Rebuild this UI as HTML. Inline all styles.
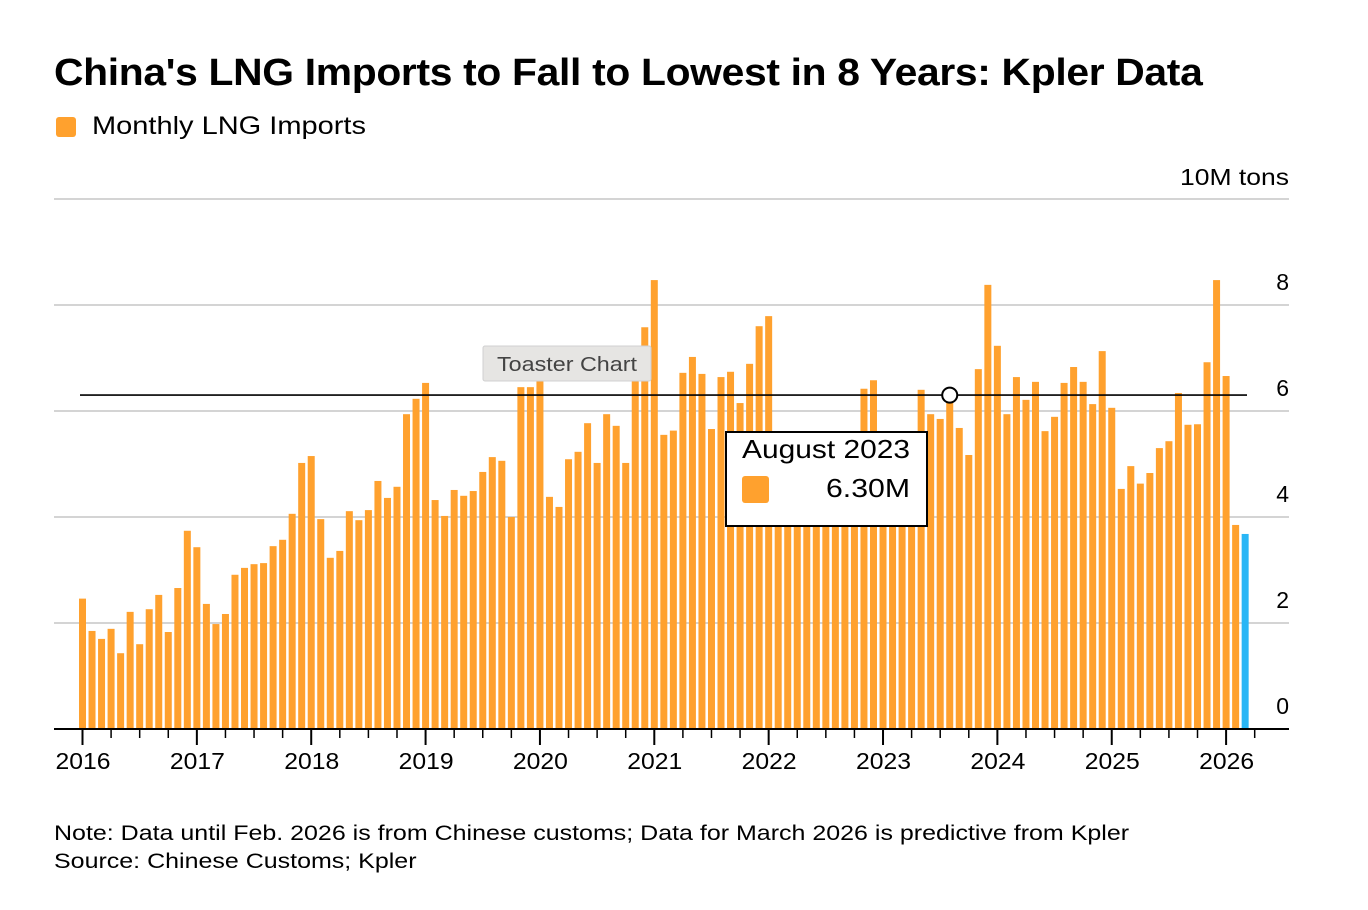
<!DOCTYPE html>
<html><head><meta charset="utf-8"><style>
body{margin:0;width:1368px;height:910px;background:#fff;font-family:"Liberation Sans",Arial,sans-serif;overflow:hidden;position:relative}
.t{position:absolute;white-space:nowrap;color:#000;transform-origin:0 0}
</style></head><body>
<div class="t" style="left:54px;top:52px;font-size:38px;font-weight:bold;letter-spacing:-0.3px;transform:scaleX(1.074)">China's LNG Imports to Fall to Lowest in 8 Years: Kpler Data</div>
<div style="position:absolute;left:56px;top:117px;width:20px;height:20px;background:#ffa12e;border-radius:3px"></div>
<div class="t" style="left:92px;top:112px;font-size:25px;transform:scaleX(1.16)">Monthly LNG Imports</div>
<svg id="chart" width="1368" height="910" style="position:absolute;left:0;top:0"></svg>
<div class="t" style="left:54px;top:822px;font-size:21px;transform:scaleX(1.19)">Note: Data until Feb. 2026 is from Chinese customs; Data for March 2026 is predictive from Kpler</div>
<div class="t" style="left:54px;top:850px;font-size:21px;transform:scaleX(1.19)">Source: Chinese Customs; Kpler</div>
<script>
const values=[2.46,1.85,1.70,1.89,1.43,2.21,1.60,2.26,2.53,1.83,2.66,3.74,
3.43,2.36,1.98,2.17,2.91,3.04,3.11,3.13,3.45,3.57,4.06,5.02,
5.15,3.96,3.23,3.36,4.11,3.94,4.13,4.68,4.36,4.57,5.94,6.23,
6.53,4.32,4.02,4.51,4.40,4.49,4.85,5.13,5.06,4.00,6.45,6.45,
6.70,4.38,4.19,5.09,5.23,5.77,5.02,5.94,5.72,5.02,6.80,7.58,
8.47,5.55,5.63,6.72,7.02,6.70,5.66,6.64,6.74,6.15,6.89,7.60,
7.79,4.60,5.10,4.30,4.80,4.90,5.00,4.70,5.10,4.90,6.42,6.58,
5.00,4.60,4.90,5.20,6.40,5.94,5.85,6.30,5.68,5.17,6.79,8.38,
7.23,5.94,6.64,6.21,6.55,5.62,5.89,6.53,6.83,6.55,6.13,7.13,
6.06,4.53,4.96,4.63,4.83,5.30,5.43,6.34,5.74,5.75,6.92,8.47,
6.66,3.85,3.68];
const yTicks=[0,2,4,6,8];
const years=[2016,2017,2018,2019,2020,2021,2022,2023,2024,2025,2026];
const forecastIndex=122;
const hoverIndex=91;
const hoverLabel="August 2023";
const NS="http://www.w3.org/2000/svg";
const svg=document.getElementById('chart');
const y=v=>729-v*53;
const x=i=>82.5+i*9.53;
function mk(t,a){const e=document.createElementNS(NS,t);for(const k in a)e.setAttribute(k,a[k]);svg.appendChild(e);return e;}
[10,...yTicks].forEach(v=>{if(v===0)return;
const g=mk('line',{x1:54,x2:1289,y1:y(v),y2:y(v),stroke:'#d4d4d4','stroke-width':2});

});
yTicks.forEach(v=>{const t=mk('text',{x:1289,y:y(v)-15,'text-anchor':'end','font-size':23,'font-family':'Liberation Sans'});
t.textContent=v;

});
const u=mk('text',{x:1180,y:185,'font-size':23,'font-family':'Liberation Sans',textLength:109,lengthAdjust:'spacingAndGlyphs'});
u.textContent='10M tons';


values.forEach((v,i)=>{const r=mk('rect',{x:x(i)-3.5,y:y(v),width:7,height:v*53,fill:i===forecastIndex?'#29b6f6':'#ffa12e'});

});
const ax=mk('line',{x1:54,x2:1289,y1:729,y2:729,stroke:'#000','stroke-width':2});


for(let i=0;i<=123;i+=3){const yr=i%12===0;
const tk=mk('line',{x1:x(i),x2:x(i),y1:729,y2:yr?745:738,stroke:'#000','stroke-width':yr?2:1.5});

}
years.forEach((yr,k)=>{const t=mk('text',{x:x(k*12)-27,y:769,'font-size':23,'font-family':'Liberation Sans',textLength:55,lengthAdjust:'spacingAndGlyphs'});
t.textContent=yr;

});
const hy=y(values[hoverIndex]);
const cl=mk('line',{x1:80,x2:1247,y1:hy,y2:hy,stroke:'#000','stroke-width':1.6});


const c=mk('circle',{cx:x(hoverIndex),cy:hy,r:7.5,fill:'#fff',stroke:'#000','stroke-width':2});


const tb=mk('rect',{x:483,y:346,width:168,height:35,fill:'#e6e5e3',stroke:'#d0d0d0',rx:2});


const tt=mk('text',{x:497,y:371,'font-size':20,fill:'#444','font-family':'Liberation Sans',textLength:140,lengthAdjust:'spacingAndGlyphs'});
tt.textContent='Toaster Chart';


const tip=mk('rect',{x:726,y:432,width:201,height:94,fill:'#fff',stroke:'#000','stroke-width':2});


const t1=mk('text',{x:742,y:458,'font-size':26,'font-family':'Liberation Sans',textLength:168,lengthAdjust:'spacingAndGlyphs'});
t1.textContent=hoverLabel;


const sw=mk('rect',{x:742,y:476,width:27,height:27,rx:3,fill:'#ffa12e'});


const t2=mk('text',{x:826,y:497,'font-size':26,'font-family':'Liberation Sans',textLength:84,lengthAdjust:'spacingAndGlyphs'});
t2.textContent=values[hoverIndex].toFixed(2)+'M';


</script>
</body></html>
